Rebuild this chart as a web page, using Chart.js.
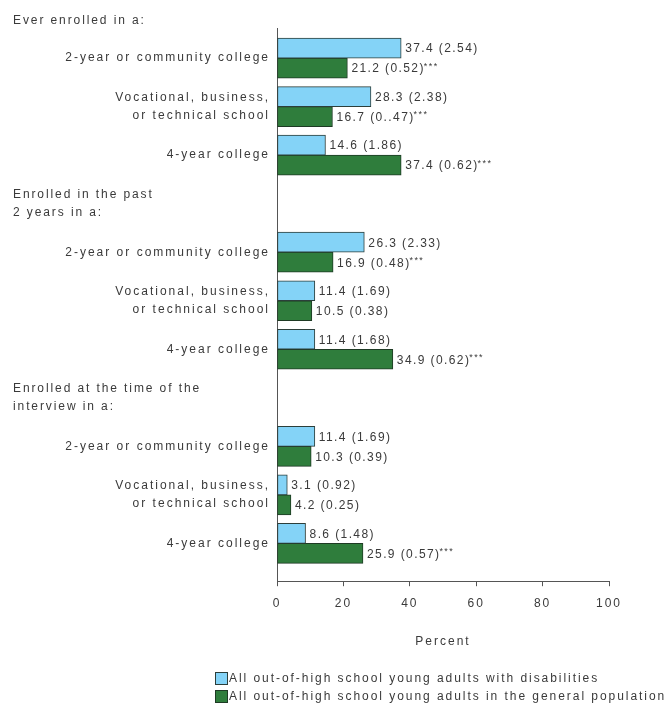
<!DOCTYPE html>
<html>
<head>
<meta charset="utf-8">
<script src="https://cdn.jsdelivr.net/npm/chart.js@4/dist/chart.umd.min.js"></script>
<style>
  html, body { margin: 0; padding: 0; background: #ffffff; }
  canvas { display: block; }
</style>
</head>
<body>
<canvas id="chart" width="670" height="709"></canvas>
<script>
// Section headings (one per group of three school types)
const groupTitles = [
  ['Ever enrolled in a:'],
  ['Enrolled in the past', '2 years in a:'],
  ['Enrolled at the time of the', 'interview in a:']
];
// School types repeated inside every group
const schoolTypes = [
  '2-year or community college',
  ['Vocational, business,', 'or technical school'],
  '4-year college'
];

const seriesNames = [
  'All out-of-high school young adults with disabilities',
  'All out-of-high school young adults in the general population'
];

// Percent values, group by group (ever / past 2 years / at interview)
const withDisabilities = [37.4, 28.3, 14.6, 26.3, 11.4, 11.4, 11.4, 3.1, 8.6];
const withDisabilitiesSE = ['2.54', '2.38', '1.86', '2.33', '1.69', '1.68', '1.69', '0.92', '1.48'];
const withDisabilitiesSig = ['', '', '', '', '', '', '', '', ''];

const generalPopulation = [21.2, 16.7, 37.4, 16.9, 10.5, 34.9, 10.3, 4.2, 25.9];
const generalPopulationSE = ['0.52', '0..47', '0.62', '0.48', '0.38', '0.62', '0.39', '0.25', '0.57'];
const generalPopulationSig = ['***', '***', '***', '***', '', '***', '', '', '***'];

const xTicks = [0, 20, 40, 60, 80, 100];

const FONT = "'Liberation Sans', Arial, Helvetica, sans-serif";
const TEXT = '#3a3a3a';

// Each group takes four rows: the heading row, then its three school types
const rowOf = i => Math.floor(i / 3) * 4 + 1 + (i % 3);
const itemRows = withDisabilities.map((_, i) => rowOf(i));
const points = vals => vals.map((v, i) => ({ x: v, y: rowOf(i) }));

const spacing = {
  id: 'spacing',
  beforeUpdate(chart) { chart.ctx.letterSpacing = '2px'; },
  beforeDraw(chart) { chart.ctx.letterSpacing = '2px'; }
};

const valueLabels = {
  id: 'valueLabels',
  afterDatasetsDraw(chart) {
    const ctx = chart.ctx;
    ctx.save();
    ctx.letterSpacing = '1.4px';
    ctx.fillStyle = TEXT;
    ctx.textBaseline = 'middle';
    ctx.textAlign = 'left';
    chart.data.datasets.forEach((ds, di) => {
      const meta = chart.getDatasetMeta(di);
      meta.data.forEach((bar, i) => {
        const main = ds.data[i].x.toFixed(1) + ' (' + ds.se[i] + ')';
        ctx.font = '12px ' + FONT;
        const x = bar.x + 4;
        ctx.fillText(main, x, bar.y + 1);
        if (ds.sig[i]) {
          const w = ctx.measureText(main).width;
          ctx.font = '9px ' + FONT;
          ctx.fillText(ds.sig[i], x + w - 1, bar.y - 2);
        }
      });
    });
    ctx.restore();
  }
};

const groupHeadings = {
  id: 'groupHeadings',
  afterDraw(chart) {
    const ctx = chart.ctx;
    const y = chart.scales.y;
    const lineH = 18.5;
    ctx.save();
    ctx.letterSpacing = '1.9px';
    ctx.font = '12px ' + FONT;
    ctx.fillStyle = TEXT;
    ctx.textAlign = 'left';
    ctx.textBaseline = 'middle';
    groupTitles.forEach((lines, g) => {
      const center = y.getPixelForValue(g * 4);
      const top = Math.max(11, center - lines.length * lineH / 2);
      lines.forEach((t, k) => ctx.fillText(t, 13, top + lineH * (k + 0.5)));
    });
    ctx.restore();
  }
};

const boxLegend = {
  id: 'boxLegend',
  afterDraw(chart) {
    const ctx = chart.ctx;
    ctx.save();
    ctx.letterSpacing = '1.95px';
    ctx.font = '12px ' + FONT;
    ctx.textAlign = 'left';
    ctx.textBaseline = 'middle';
    chart.data.datasets.forEach((ds, i) => {
      const cy = 679 + i * 18;
      ctx.fillStyle = ds.backgroundColor;
      ctx.fillRect(215.5, cy - 6.5, 12, 12);
      ctx.strokeStyle = ds.borderColor;
      ctx.lineWidth = 1;
      ctx.strokeRect(215.5, cy - 6.5, 12, 12);
      ctx.fillStyle = TEXT;
      ctx.fillText(ds.label, 229, cy);
    });
    ctx.restore();
  }
};

new Chart(document.getElementById('chart'), {
  type: 'bar',
  data: {
    datasets: [
      {
        label: seriesNames[0],
        data: points(withDisabilities),
        se: withDisabilitiesSE,
        sig: withDisabilitiesSig,
        backgroundColor: '#84d3f7',
        borderColor: '#2c3e3a',
        borderWidth: 1,
        borderSkipped: false,
        barThickness: 20
      },
      {
        label: seriesNames[1],
        data: points(generalPopulation),
        se: generalPopulationSE,
        sig: generalPopulationSig,
        backgroundColor: '#2f7d3c',
        borderColor: '#1e3a24',
        borderWidth: 1,
        borderSkipped: false,
        barThickness: 20
      }
    ]
  },
  options: {
    indexAxis: 'y',
    responsive: false,
    animation: false,
    layout: { padding: { top: 28, right: 61, bottom: 56, left: 0 } },
    plugins: {
      legend: { display: false },
      tooltip: { enabled: false }
    },
    scales: {
      x: {
        type: 'linear',
        min: 0,
        max: 100,
        afterBuildTicks: s => { s.ticks = xTicks.map(v => ({ value: v })); },
        ticks: { color: TEXT, font: { family: FONT, size: 12 }, padding: 10 },
        grid: { display: true, drawOnChartArea: false, drawTicks: true, tickLength: 5, color: '#555' },
        border: { display: true, color: '#555', width: 1 },
        title: {
          display: true,
          text: 'Percent',
          color: TEXT,
          font: { family: FONT, size: 12 },
          padding: { top: 14, bottom: 4 }
        }
      },
      y: {
        type: 'linear',
        reverse: true,
        offset: false,
        min: 0.38,
        max: 11.78,
        afterBuildTicks: s => { s.ticks = itemRows.map(v => ({ value: v })); },
        afterFit: s => { s.width = 277; s.paddingTop = 0; s.paddingBottom = 0; },
        ticks: {
          autoSkip: false,
          color: TEXT,
          padding: 7,
          font: { family: FONT, size: 12, lineHeight: 1.55 },
          callback: v => schoolTypes[(v % 4) - 1]
        },
        grid: { display: false, drawTicks: false, offset: false },
        border: { display: true, color: '#555', width: 1 }
      }
    }
  },
  plugins: [spacing, valueLabels, groupHeadings, boxLegend]
});
</script>
</body>
</html>
